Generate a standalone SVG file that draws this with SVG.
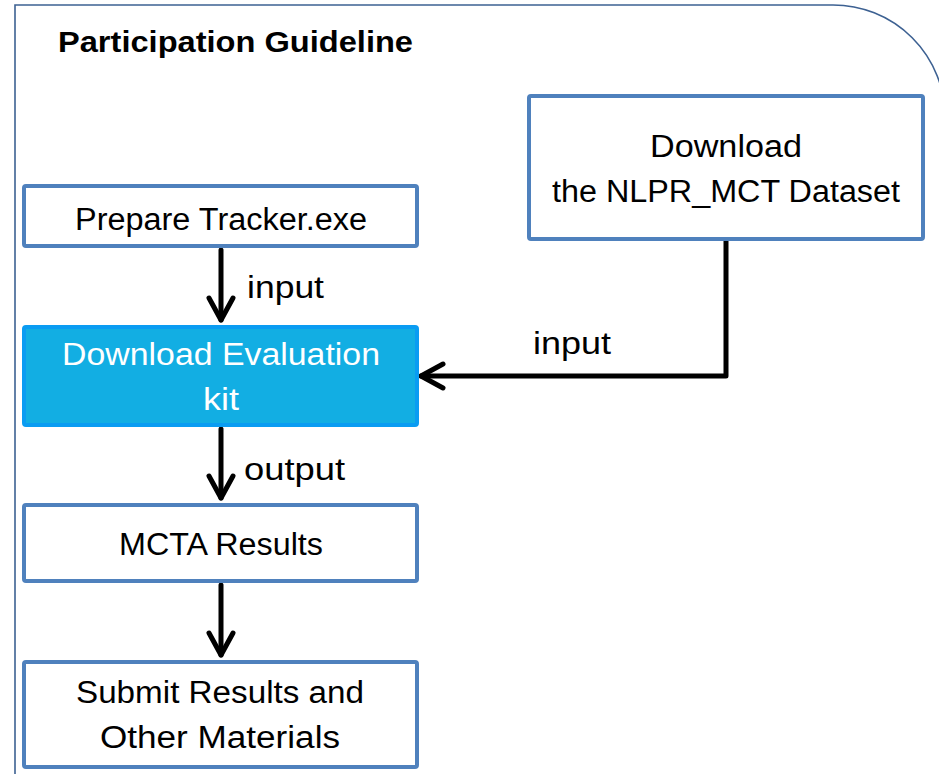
<svg xmlns="http://www.w3.org/2000/svg" width="939" height="774" viewBox="0 0 939 774">
  <defs>
    <style>
      .frame { fill: none; stroke: #3D6192; stroke-width: 1.6; }
      .box { fill: #FFFFFF; stroke: #4F81BD; stroke-width: 4; }
      .box-hl { fill: #12AEE3; stroke: #0A9CF2; stroke-width: 4; }
      .lbl { font-family: "Liberation Sans", Arial, sans-serif; font-size: 31px; fill: #000000; }
      .lbl-w { font-family: "Liberation Sans", Arial, sans-serif; font-size: 31px; fill: #FFFFFF; }
      .title { font-family: "Liberation Sans", Arial, sans-serif; font-size: 29px; font-weight: bold; fill: #000000; }
      .wire { fill: none; stroke: #000000; stroke-width: 5; stroke-linecap: round; stroke-linejoin: round; }
    </style>
    <marker id="head" markerUnits="userSpaceOnUse" viewBox="-26 -15 30 30" refX="0" refY="0" markerWidth="30" markerHeight="30" orient="auto" overflow="visible">
      <path d="M -22 -12 L 0 0 L -22 12" fill="none" stroke="#000000" stroke-width="5" stroke-linecap="round" stroke-linejoin="round"/>
    </marker>
  </defs>

  <rect width="939" height="774" fill="#FFFFFF"/>

  <!-- outer panel with rounded top-right corner -->
  <path class="frame" d="M 15 776 V 5 H 833 A 112 112 0 0 1 945 117 V 776"/>
  <text class="title" x="58" y="52" textLength="355" lengthAdjust="spacingAndGlyphs">Participation Guideline</text>

  <!-- connectors -->
  <g id="connectors">
    <path class="wire" d="M 221 250 V 320" marker-end="url(#head)"/>
    <path class="wire" d="M 221 429 V 498" marker-end="url(#head)"/>
    <path class="wire" d="M 221 585 V 655" marker-end="url(#head)"/>
    <path class="wire" d="M 726 241 V 376 H 421" marker-end="url(#head)"/>
    <text class="lbl" x="247" y="298" textLength="77" lengthAdjust="spacingAndGlyphs">input</text>
    <text class="lbl" x="244" y="480" textLength="101" lengthAdjust="spacingAndGlyphs">output</text>
    <text class="lbl" x="533" y="354" textLength="78" lengthAdjust="spacingAndGlyphs">input</text>
  </g>

  <g id="prepare-tracker">
    <rect class="box" x="24" y="186" width="393" height="60" rx="2"/>
    <text class="lbl" x="221" y="230" text-anchor="middle" textLength="292" lengthAdjust="spacingAndGlyphs">Prepare Tracker.exe</text>
  </g>

  <g id="download-dataset">
    <rect class="box" x="529" y="96" width="394" height="143" rx="2"/>
    <text class="lbl" x="726" y="157" text-anchor="middle" textLength="152" lengthAdjust="spacingAndGlyphs">Download</text>
    <text class="lbl" x="726" y="202" text-anchor="middle" textLength="348" lengthAdjust="spacingAndGlyphs">the NLPR_MCT Dataset</text>
  </g>

  <g id="download-kit">
    <rect class="box-hl" x="24" y="327" width="393" height="98" rx="2"/>
    <text class="lbl-w" x="221" y="365" text-anchor="middle" textLength="318" lengthAdjust="spacingAndGlyphs">Download Evaluation</text>
    <text class="lbl-w" x="221" y="410" text-anchor="middle" textLength="36" lengthAdjust="spacingAndGlyphs">kit</text>
  </g>

  <g id="mcta-results">
    <rect class="box" x="24" y="505" width="393" height="76" rx="2"/>
    <text class="lbl" x="221" y="555" text-anchor="middle" textLength="204" lengthAdjust="spacingAndGlyphs">MCTA Results</text>
  </g>

  <g id="submit-results">
    <rect class="box" x="24" y="662" width="393" height="105" rx="2"/>
    <text class="lbl" x="220" y="703" text-anchor="middle" textLength="288" lengthAdjust="spacingAndGlyphs">Submit Results and</text>
    <text class="lbl" x="220" y="748" text-anchor="middle" textLength="240" lengthAdjust="spacingAndGlyphs">Other Materials</text>
  </g>
</svg>
